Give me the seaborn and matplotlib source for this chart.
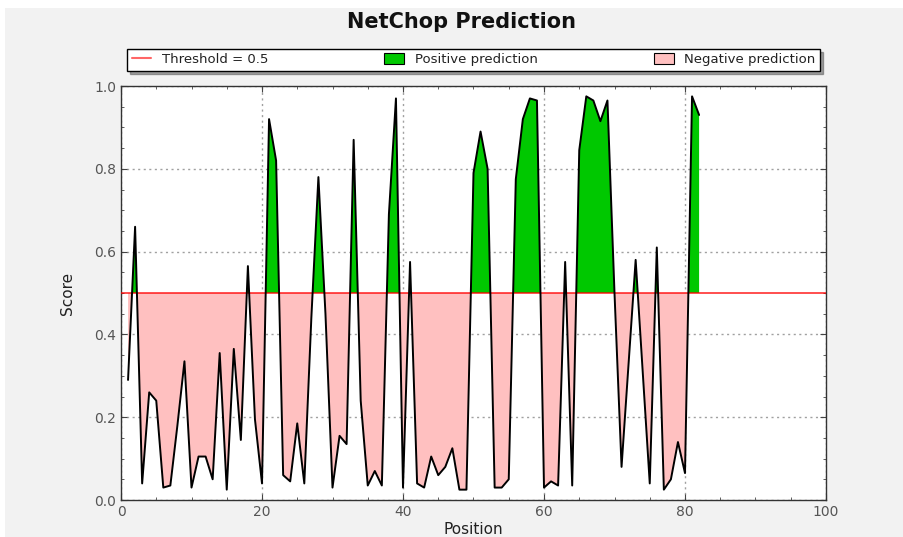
import numpy as np
import pandas as pd
import seaborn as sns
import matplotlib
matplotlib.use("Agg")
import matplotlib.pyplot as plt
from matplotlib.patches import Patch, Rectangle
from matplotlib.lines import Line2D
from matplotlib.ticker import MultipleLocator

positions = list(range(1, 83))
scores = [0.29, 0.66, 0.04, 0.26, 0.24, 0.03, 0.035, 0.18, 0.335, 0.03,
          0.105, 0.105, 0.05, 0.355, 0.025, 0.365, 0.145, 0.565, 0.195, 0.04,
          0.92, 0.82, 0.06, 0.045, 0.185, 0.04, 0.44, 0.78, 0.45, 0.03,
          0.155, 0.135, 0.87, 0.24, 0.035, 0.07, 0.035, 0.69, 0.97, 0.03,
          0.575, 0.04, 0.03, 0.105, 0.06, 0.08, 0.125, 0.025, 0.025, 0.79,
          0.89, 0.80, 0.03, 0.03, 0.05, 0.775, 0.92, 0.97, 0.965, 0.03,
          0.045, 0.035, 0.575, 0.035, 0.845, 0.975, 0.965, 0.915, 0.965, 0.50,
          0.08, 0.33, 0.58, 0.31, 0.04, 0.61, 0.025, 0.05, 0.14, 0.065,
          0.975, 0.93]
threshold = 0.5
title = "NetChop Prediction"
legend_labels = ["Threshold = 0.5", "Positive prediction", "Negative prediction"]

df = pd.DataFrame({"Position": positions, "Score": scores})

sns.set_style("white")
plt.rcParams['font.family'] = ['DejaVu Sans']

fig = plt.figure(figsize=(9.04, 5.37), dpi=100, facecolor="white")
fig.patches.append(Rectangle((5 / 904, 0), 1, 529 / 537, transform=fig.transFigure,
                             facecolor="#f2f2f2", edgecolor="none", zorder=-10))
ax = fig.add_axes([121 / 904, 37 / 537, 705 / 904, 414 / 537])
ax.set_facecolor("white")

x = np.array(positions, dtype=float)
y = np.array(scores)
pos_color = "#00c800"
neg_color = "#ffc0c0"
ax.fill_between(x, threshold, y, where=y >= threshold, interpolate=True,
                facecolor=pos_color, edgecolor="none", zorder=2)
ax.fill_between(x, threshold, y, where=y <= threshold, interpolate=True,
                facecolor=neg_color, edgecolor="none", zorder=2)
ax.axhline(threshold, color="red", lw=1.3, alpha=0.75, zorder=3)
sns.lineplot(data=df, x="Position", y="Score", color="black", lw=1.4, ax=ax,
             zorder=4, legend=False)

ax.set_xlim(0, 100)
ax.set_ylim(0, 1.0)
ax.xaxis.set_major_locator(MultipleLocator(20))
ax.xaxis.set_minor_locator(MultipleLocator(5))
ax.yaxis.set_major_locator(MultipleLocator(0.2))
ax.yaxis.set_minor_locator(MultipleLocator(0.05))
ax.set_yticks([0, 0.2, 0.4, 0.6, 0.8, 1.0])
ax.set_yticklabels(["0.0", "0.2", "0.4", "0.6", "0.8", "1.0"])
ax.tick_params(which="both", direction="in", top=True, right=True,
               bottom=True, left=True, colors="#444444", labelcolor="#555555",
               labelsize=10)
ax.tick_params(which="major", length=4, width=0.8)
ax.tick_params(which="minor", length=2.5, width=0.6)
ax.grid(True, which="major", linestyle=(0, (1.5, 2.5)), color="#a0a0a0", lw=1.0)
for s in ax.spines.values():
    s.set_color("#333333")
    s.set_linewidth(1.0)

ax.set_xlabel("Position", fontsize=11, color="#222222", labelpad=2)
ax.set_ylabel("Score", fontsize=11, color="#222222", labelpad=14)

fig.text(462 / 904, 1 - 22 / 537, title, ha="center", va="center",
         fontsize=15, fontweight="bold", color="#111111")

handles = [Line2D([0], [0], color="red", lw=1.5, alpha=0.6),
           Patch(facecolor=pos_color, edgecolor="black", lw=0.8),
           Patch(facecolor=neg_color, edgecolor="black", lw=0.8)]
leg = ax.legend(handles, legend_labels, ncol=3, mode="expand",
                bbox_to_anchor=(0.0085, 1.036, 0.983, 0.056), loc="lower left",
                borderaxespad=0, fancybox=False, shadow=True, frameon=True,
                fontsize=9.5, handlelength=1.5, handleheight=0.9,
                borderpad=0.35, handletextpad=0.8)
leg.get_frame().set_edgecolor("black")
leg.get_frame().set_linewidth(1.0)
for t in leg.get_texts():
    t.set_color("#222222")

fig.savefig("out.png", dpi=100, facecolor=fig.get_facecolor())
